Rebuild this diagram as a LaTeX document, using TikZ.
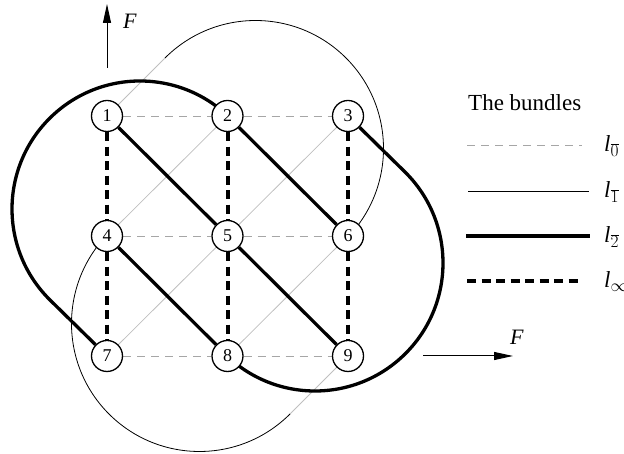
\documentclass[tikz,border=0pt]{standalone}
\usepackage{fontspec}
\setmainfont{Liberation Serif}
\usetikzlibrary{arrows.meta}
\pgfdeclarelayer{bg}
\pgfsetlayers{bg,main}
\begin{document}
\begin{tikzpicture}[x=1pt,y=1pt,
  vtx/.style={circle,draw,line width=1.3pt,fill=white,minimum size=31pt,inner sep=0pt,
    font=\fontsize{18}{18}\selectfont},
  lzero/.style={draw=black!35,line width=0.9pt,dash pattern=on 8pt off 6pt},
  lonegray/.style={draw=black!25,line width=0.8pt},
  lone/.style={draw=black,line width=0.8pt},
  ltwo/.style={draw=black,line width=3.3pt},
  linf/.style={draw=black,line width=4pt,dash pattern=on 9pt off 5.5pt},
  farrow/.style={line width=1pt,-{Triangle[length=19pt,width=8pt]}},
  lbl/.style={font=\fontsize{23}{23}\selectfont,inner sep=0pt},
  flbl/.style={font=\fontsize{22}{22}\selectfont,inner sep=0pt}
]
\useasboundingbox (0,0) rectangle (624,454);

% vertices
\node[vtx] (n1) at (107,338) {1};
\node[vtx] (n2) at (227.5,338) {2};
\node[vtx] (n3) at (348,338) {3};
\node[vtx] (n4) at (107,218) {4};
\node[vtx] (n5) at (227.5,218) {5};
\node[vtx] (n6) at (348,218) {6};
\node[vtx] (n7) at (107,98) {7};
\node[vtx] (n8) at (227.5,98) {8};
\node[vtx] (n9) at (348,98) {9};

% auxiliary points
\coordinate (ta) at (165,396);
\coordinate (tb) at (290,40);
\coordinate (tl) at (49.5,154.5);
\coordinate (tr) at (405.5,281.5);

\begin{pgfonlayer}{bg}
% l0 bundle
\draw[lzero] (n1) -- (n2);
\draw[lzero] (n2) -- (n3);
\draw[lzero] (n4) -- (n5);
\draw[lzero] (n5) -- (n6);
\draw[lzero] (n7) -- (n8);
\draw[lzero] (n8) -- (n9);
% l1 bundle
\draw[lonegray] (n2) -- (n4);
\draw[lonegray] (n3) -- (n5);
\draw[lonegray] (n5) -- (n7);
\draw[lonegray] (n6) -- (n8);
\draw[lonegray] (n1) -- (ta);
\draw[lonegray] (n9) -- (tb);
\draw[lone] (ta) arc[start angle=135,end angle=-43.4,radius=128pt];
\draw[lone] (tb) arc[start angle=-45,end angle=-223.4,radius=128pt];
% l2 bundle
\draw[ltwo] (n1) -- (n5);
\draw[ltwo] (n5) -- (n9);
\draw[ltwo] (n2) -- (n6);
\draw[ltwo] (n4) -- (n8);
\draw[ltwo] (n7) -- (tl) arc[start angle=225,end angle=46.7,radius=128pt];
\draw[ltwo] (n3) -- (tr) arc[start angle=45,end angle=-133.3,radius=128pt];
% l-infinity bundle
\draw[linf] (n1) -- (n4);
\draw[linf] (n4) -- (n7);
\draw[linf] (n2) -- (n5);
\draw[linf] (n5) -- (n8);
\draw[linf] (n3) -- (n6);
\draw[linf] (n6) -- (n9);
\end{pgfonlayer}

% F arrows
\coordinate (fva) at (107,386);
\coordinate (fvb) at (107,450);
\draw[farrow] (fva) -- (fvb);
\node[flbl] (fv) at (130,433) {\textit{F}};
\coordinate (fha) at (423,98);
\coordinate (fhb) at (513,98);
\draw[farrow] (fha) -- (fhb);
\node[flbl] (fh) at (517,117) {\textit{F}};

% legend
\node[lbl,anchor=base west] (title) at (468,343) {The bundles};
\coordinate (a0) at (467,309); \coordinate (b0) at (582,309);
\coordinate (a1) at (468,263); \coordinate (b1) at (589,263);
\coordinate (a2) at (466,218); \coordinate (b2) at (590,218);
\coordinate (a3) at (467,173); \coordinate (b3) at (582,173);
\draw[lzero] (a0) -- (b0);
\draw[lone] (a1) -- (b1);
\draw[ltwo] (a2) -- (b2);
\draw[linf] (a3) -- (b3);
\node[lbl,anchor=base west] (k0) at (604,302) {\textit{l}$_{\overline{0}}$};
\node[lbl,anchor=base west] (k1) at (604,256) {\textit{l}$_{\overline{1}}$};
\node[lbl,anchor=base west] (k2) at (604,211) {\textit{l}$_{\overline{2}}$};
\node[lbl,anchor=base west] (k3) at (604,166) {\textit{l}$_{\infty}$};
\end{tikzpicture}
\end{document}
